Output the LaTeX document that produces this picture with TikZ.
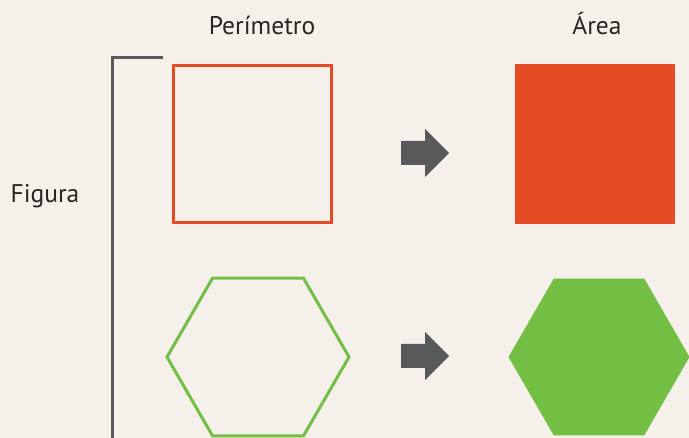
\documentclass[tikz,border=0pt]{standalone}
\usepackage{fontspec}
\setmainfont{PT Sans}
\definecolor{bg}{HTML}{F5F0EA}
\definecolor{dgray}{HTML}{58595B}
\definecolor{myred}{HTML}{E54A25}
\definecolor{mygreen}{HTML}{72BF44}
\tikzset{
  lbl/.style={font=\fontsize{25.5}{30}\selectfont, text=black!85, inner sep=0pt, anchor=base},
  fatarrow/.style={fill=dgray},
}
\begin{document}
\begin{tikzpicture}[x=1pt,y=-1pt]
\fill[bg] (0,0) rectangle (689,438);
\useasboundingbox (0,0) rectangle (689,438);
\begin{scope}
\clip (0,0) rectangle (689,438);
% bracket
\draw[dgray, line width=3pt] (163,57.5) -- (112.5,57.5) -- (112.5,439.2) -- (155,439.2);
% labels
\node[lbl] (per) at (262,34.5) {Perímetro};
\node[lbl] (area) at (597,34.5) {Área};
\node[lbl] (fig) at (45,202.5) {Figura};
% squares
\draw[myred, line width=3pt] (173.5,65.5) rectangle (331.5,222.5);
\fill[myred] (515,64) rectangle (675,224);
% hexagons
\draw[mygreen, line width=3pt] (258,357) +(0:91) -- +(60:91) -- +(120:91) -- +(180:91) -- +(240:91) -- +(300:91) -- cycle;
\fill[mygreen] (599,357) +(0:90.5) -- +(60:90.5) -- +(120:90.5) -- +(180:90.5) -- +(240:90.5) -- +(300:90.5) -- cycle;
% arrows
\fill[fatarrow] (401,141) -- (425,141) -- (425,129) -- (449,153) -- (425,177) -- (425,165) -- (401,165) -- cycle;
\fill[fatarrow] (401,344) -- (425,344) -- (425,332) -- (449,356) -- (425,380) -- (425,368) -- (401,368) -- cycle;
\end{scope}
\end{tikzpicture}
\end{document}
